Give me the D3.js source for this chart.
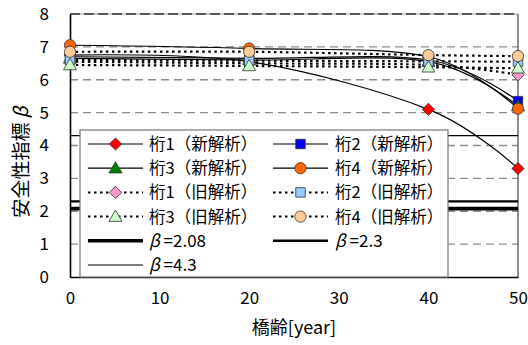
<!DOCTYPE html>
<html>
<head>
<meta charset="utf-8">
<script src="https://cdn.jsdelivr.net/npm/d3@7"></script>
<style>
  html, body { margin: 0; padding: 0; background: #fff; }
  svg text { font-family: "Noto Sans CJK JP", "Liberation Sans", sans-serif; fill: #000; }
</style>
</head>
<body>
<svg id="chart" width="528" height="345"></svg>
<script>
// Bridge age (years) at which the reliability index was evaluated
const years = [0, 20, 40, 50];

// Reliability index β per girder, new analysis
const girder1New = [6.75, 6.55, 5.1, 3.3];
const girder2New = [6.7, 6.65, 6.6, 5.35];
const girder3New = [6.65, 6.6, 6.55, 5.2];
const girder4New = [7.05, 6.95, 6.7, 5.12];

// Reliability index β per girder, previous analysis
const girder1Old = [6.55, 6.5, 6.45, 6.15];
const girder2Old = [6.6, 6.58, 6.56, 6.55];
const girder3Old = [6.45, 6.42, 6.38, 6.35];
const girder4Old = [6.85, 6.85, 6.75, 6.72];

// Target reliability levels
const targetBetas = [2.08, 2.3, 4.3];

const xTicks = [0, 10, 20, 30, 40, 50];
const yTicks = [0, 1, 2, 3, 4, 5, 6, 7, 8];

const seriesNames = ["桁1（新解析）", "桁2（新解析）", "桁3（新解析）", "桁4（新解析）",
                     "桁1（旧解析）", "桁2（旧解析）", "桁3（旧解析）", "桁4（旧解析）"];

const series = [
  { name: seriesNames[0], values: girder1New, shape: "diamond",  fill: "#ff0000", dotted: false },
  { name: seriesNames[1], values: girder2New, shape: "square",   fill: "#0000ff", dotted: false },
  { name: seriesNames[2], values: girder3New, shape: "triangle", fill: "#008000", dotted: false },
  { name: seriesNames[3], values: girder4New, shape: "circle",   fill: "#ff6600", dotted: false },
  { name: seriesNames[4], values: girder1Old, shape: "diamond",  fill: "#ff99cc", dotted: true },
  { name: seriesNames[5], values: girder2Old, shape: "square",   fill: "#99ccff", dotted: true },
  { name: seriesNames[6], values: girder3Old, shape: "triangle", fill: "#ccffcc", dotted: true },
  { name: seriesNames[7], values: girder4Old, shape: "circle",   fill: "#ffcc99", dotted: true }
];

const betaStyles = [
  { value: targetBetas[0], width: 3.6 },
  { value: targetBetas[1], width: 2.4 },
  { value: targetBetas[2], width: 1.1 }
];

const svg = d3.select("#chart");
const plotLeft = 70, plotRight = 518, plotTop = 14, plotBottom = 277;

const x = d3.scaleLinear().domain([0, 50]).range([plotLeft, plotRight]);
const y = d3.scaleLinear().domain([0, 8]).range([plotBottom, plotTop]);

// dashed horizontal gridlines
svg.append("g").selectAll("line")
  .data(yTicks.filter(v => v > 0 && v < 8))
  .join("line")
  .attr("x1", plotLeft).attr("x2", plotRight)
  .attr("y1", d => y(d)).attr("y2", d => y(d))
  .attr("stroke", "#8c8c8c").attr("stroke-width", 1.3)
  .attr("stroke-dasharray", "8,5");

// plot frame: solid right border, dashed top edge, solid axes
svg.append("line").attr("x1", plotRight).attr("x2", plotRight).attr("y1", plotTop).attr("y2", plotBottom)
  .attr("stroke", "#555").attr("stroke-width", 1.3);
svg.append("line").attr("x1", plotLeft).attr("x2", plotRight).attr("y1", y(8)).attr("y2", y(8))
  .attr("stroke", "#999").attr("stroke-width", 1);
svg.append("line").attr("x1", plotLeft).attr("x2", plotRight).attr("y1", y(8)).attr("y2", y(8))
  .attr("stroke", "#333").attr("stroke-width", 1.6).attr("stroke-dasharray", "10,4");

// target β lines
svg.append("g").selectAll("line")
  .data(betaStyles)
  .join("line")
  .attr("x1", x(0)).attr("x2", x(50))
  .attr("y1", d => y(d.value)).attr("y2", d => y(d.value))
  .attr("stroke", "#000").attr("stroke-width", d => d.width);

// axes
const yAxis = d3.axisLeft(y).tickValues(yTicks).tickSize(0).tickPadding(21).tickFormat(d3.format("d"));
const gy = svg.append("g").attr("transform", `translate(${plotLeft},0)`).call(yAxis);
gy.select(".domain").attr("stroke", "#000").attr("stroke-width", 1.6);
gy.selectAll("text").attr("font-size", 17).attr("font-family", "Liberation Sans, sans-serif");

const xAxis = d3.axisBottom(x).tickValues(xTicks).tickSize(0).tickPadding(15).tickFormat(d3.format("d"));
const gx = svg.append("g").attr("transform", `translate(0,${plotBottom})`).call(xAxis);
gx.select(".domain").attr("stroke", "#000").attr("stroke-width", 1.6);
gx.selectAll("text").attr("font-size", 17).attr("font-family", "Liberation Sans, sans-serif");

// marker shapes
const symbolFor = {
  diamond: d3.symbol().type(d3.symbolSquare).size(74),
  square: d3.symbol().type(d3.symbolSquare).size(90),
  triangle: d3.symbol().type(d3.symbolTriangle).size(74),
  circle: d3.symbol().type(d3.symbolCircle).size(100)
};
function drawMarker(g, shape, fill, cx, cy) {
  g.append("path")
    .attr("d", symbolFor[shape]())
    .attr("transform", `translate(${cx},${cy})` + (shape === "diamond" ? " rotate(45)" : "") + (shape === "triangle" ? " translate(0,1)" : ""))
    .attr("fill", fill)
    .attr("stroke", "#333").attr("stroke-width", 0.8);
}

const line = d3.line()
  .x((d, i) => x(years[i]))
  .y(d => y(d))
  .curve(d3.curveCardinal.tension(0));

// smoothed series lines
const linesG = svg.append("g");
series.forEach(s => {
  linesG.append("path")
    .attr("d", line(s.values))
    .attr("fill", "none")
    .attr("stroke", "#000")
    .attr("stroke-width", s.dotted ? 2.2 : 1.2)
    .attr("stroke-dasharray", s.dotted ? "2.5,3.5" : null);
});

// markers: new analysis first, previous analysis drawn over them
const markersG = svg.append("g");
series.forEach(s => {
  s.values.forEach((v, i) => drawMarker(markersG, s.shape, s.fill, x(years[i]), y(v)));
});

// legend
const lg = svg.append("g");
const lgX = 80, lgY = 130, lgW = 368, lgH = plotBottom - 130;
lg.append("rect").attr("x", lgX).attr("y", lgY).attr("width", lgW).attr("height", lgH)
  .attr("fill", "#fff").attr("stroke", "#777").attr("stroke-width", 1.2);

const rowY = i => 144 + i * 24.2;
const cols = [{ x1: 88, x2: 143, tx: 149 }, { x1: 273, x2: 328, tx: 335 }];

series.forEach((s, k) => {
  const c = cols[k % 2];
  const r = Math.floor(k / 2);
  const yy = rowY(r);
  lg.append("line").attr("x1", c.x1).attr("x2", c.x2).attr("y1", yy).attr("y2", yy)
    .attr("stroke", "#000").attr("stroke-width", s.dotted ? 2 : 1.2)
    .attr("stroke-dasharray", s.dotted ? "2.5,3.5" : null);
  drawMarker(lg, s.shape, s.fill, (c.x1 + c.x2) / 2, yy);
  lg.append("text").attr("x", c.tx).attr("y", yy).attr("dy", "0.36em")
    .attr("font-size", 16.5).text(s.name);
});

betaStyles.forEach((b, k) => {
  const c = cols[k % 2];
  const r = 4 + Math.floor(k / 2);
  const yy = rowY(r);
  lg.append("line").attr("x1", c.x1).attr("x2", c.x2).attr("y1", yy).attr("y2", yy)
    .attr("stroke", "#000").attr("stroke-width", b.width);
  const t = lg.append("text").attr("x", c.tx).attr("y", yy).attr("dy", "0.36em")
    .attr("font-size", 17).attr("font-family", "Liberation Sans, sans-serif");
  t.append("tspan").attr("font-style", "italic").text("β");
  t.append("tspan").text(" =" + b.value);
});

// axis titles
svg.append("text")
  .attr("transform", `translate(21,162) rotate(-90)`)
  .attr("text-anchor", "middle").attr("dy", "0.36em")
  .attr("font-size", 19)
  .call(t => {
    t.append("tspan").text("安全性指標 ");
    t.append("tspan").attr("font-style", "italic").text("β");
  });

svg.append("text")
  .attr("x", (plotLeft + plotRight) / 2).attr("y", 328)
  .attr("text-anchor", "middle").attr("dy", "0.36em")
  .attr("font-size", 18)
  .text("橋齢[year]");
</script>
</body>
</html>
